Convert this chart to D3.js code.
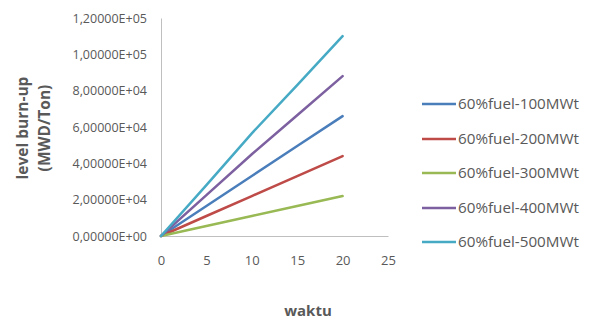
<!DOCTYPE html>
<html>
<head>
<meta charset="utf-8">
<script src="https://cdnjs.cloudflare.com/ajax/libs/d3/7.8.5/d3.min.js"></script>
<style>
body { margin: 0; background: #fff; }
text { font-family: "Open Sans", "Liberation Sans", sans-serif; fill: #595959; }
</style>
</head>
<body>
<div id="chart"></div>
<script>
// Data
var waktu = [0, 5, 10, 15, 20];
var seriesNames = ["60%fuel-100MWt", "60%fuel-200MWt", "60%fuel-300MWt", "60%fuel-400MWt", "60%fuel-500MWt"];
var s100 = [0, 16500, 33000, 49500, 66000];
var s200 = [0, 11000, 22000, 33000, 44000];
var s300 = [0, 5500, 11000, 16500, 22000];
var s400 = [0, 22500, 45000, 66500, 88000];
var s500 = [0, 28000, 56500, 83000, 110000];
var xTicks = [0, 5, 10, 15, 20, 25];
var yTicks = [0, 20000, 40000, 60000, 80000, 100000, 120000];
var colors = ["#4a7ebb", "#be4b48", "#98b954", "#7d60a0", "#46aac5"];

var allSeries = [s100, s200, s300, s400, s500];

var width = 595, height = 325;
var svg = d3.select("#chart").append("svg")
	.attr("width", width)
	.attr("height", height);

//Escalas
var x = d3.scaleLinear().domain([0, 25]).range([161, 388]);
var y = d3.scaleLinear().domain([0, 120000]).range([236, 18]);

var fmt = function(v) {
	var s = v.toExponential(5).replace(".", ",").toUpperCase();
	s = s.replace(/E([+-])(\d)$/, "E$10$2");
	return s;
};

//Eixo y
var yAxis = svg.append("g")
	.attr("transform", "translate(161,0)")
	.call(d3.axisLeft(y).tickValues(yTicks).tickSize(0).tickPadding(14).tickFormat(fmt));
yAxis.select(".domain").attr("stroke", "#bfbfbf").attr("stroke-width", 1);
yAxis.selectAll("text").style("font-size", "12.5px").attr("fill", "#595959");

//Eixo x
var xAxis = svg.append("g")
	.attr("transform", "translate(0,236)")
	.call(d3.axisBottom(x).tickValues(xTicks).tickSize(0).tickPadding(20).tickFormat(d3.format("d")));
xAxis.select(".domain").attr("stroke", "#bfbfbf").attr("stroke-width", 1);
xAxis.selectAll("text").style("font-size", "13px").attr("fill", "#595959");

//Linhas
var line = d3.line()
	.x(function(d, i) { return x(waktu[i]); })
	.y(function(d) { return y(d); });

svg.selectAll(".serie")
	.data(allSeries)
	.enter()
	.append("path")
	.attr("class", "serie")
	.attr("d", line)
	.attr("fill", "none")
	.attr("stroke", function(d, i) { return colors[i]; })
	.attr("stroke-width", 2.5)
	.attr("stroke-linecap", "round");

//Legenda
var legendY = [104, 139, 173, 208, 242];
var legend = svg.selectAll(".leg")
	.data(seriesNames)
	.enter()
	.append("g")
	.attr("class", "leg")
	.attr("transform", function(d, i) { return "translate(422," + legendY[i] + ")"; });
legend.append("line")
	.attr("x1", 0).attr("x2", 34)
	.attr("y1", 0).attr("y2", 0)
	.attr("stroke", function(d, i) { return colors[i]; })
	.attr("stroke-width", 2.5);
legend.append("text")
	.attr("x", 36)
	.attr("dy", "0.35em")
	.style("font-size", "15px")
	.attr("textLength", 121)
	.attr("lengthAdjust", "spacingAndGlyphs")
	.text(function(d) { return d; });

//Títulos
var yTitle = svg.append("text")
	.attr("transform", "translate(31,128) rotate(-90)")
	.attr("text-anchor", "middle")
	.style("font-size", "15.5px")
	.style("font-weight", "bold")
	.attr("fill", "#404040");
yTitle.append("tspan").attr("x", 0).attr("dy", "-0.2em").text("level burn-up");
yTitle.append("tspan").attr("x", 0).attr("dy", "1.4em").text("(MWD/Ton)");

svg.append("text")
	.attr("x", 308)
	.attr("y", 316)
	.attr("text-anchor", "middle")
	.style("font-size", "15px")
	.style("font-weight", "bold")
	.attr("fill", "#404040")
	.text("waktu");
</script>
</body>
</html>
